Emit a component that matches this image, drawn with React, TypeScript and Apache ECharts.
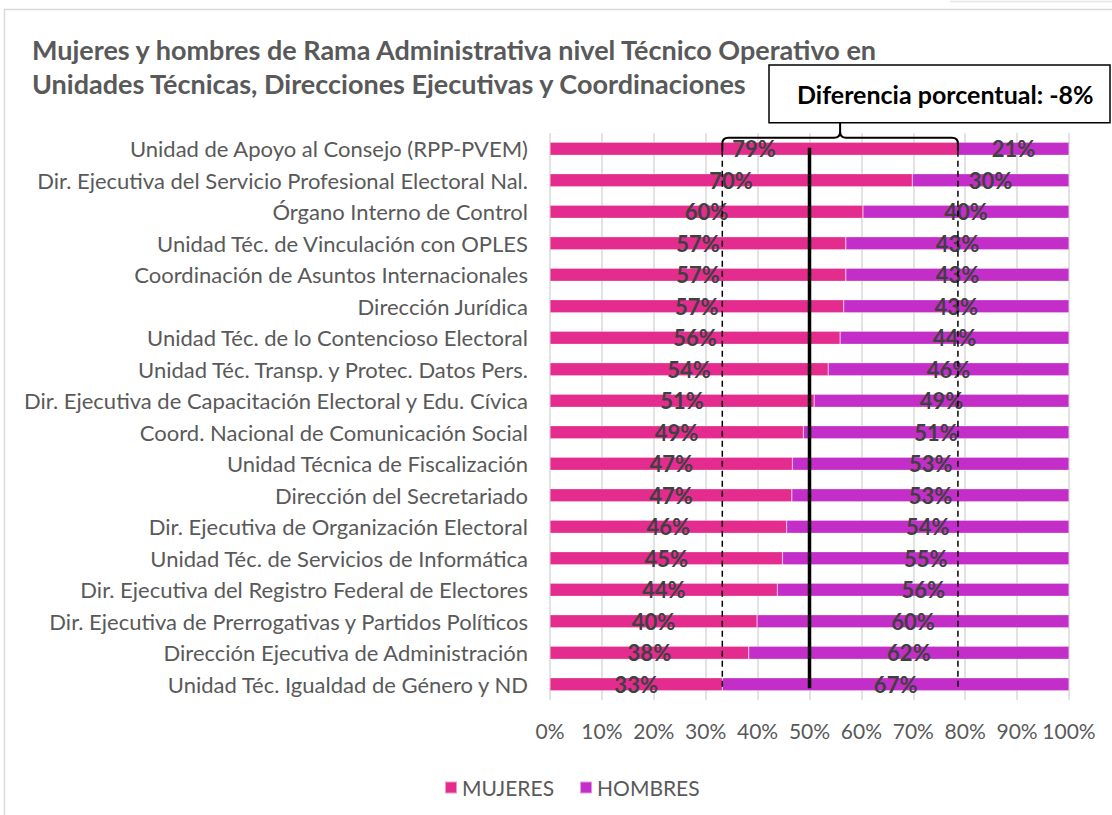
import React, { useEffect, useRef } from "react";
import * as echarts from "echarts";

const titleLines = [
  "Mujeres y hombres de Rama Administrativa nivel Técnico Operativo en",
  "Unidades Técnicas, Direcciones Ejecutivas y Coordinaciones",
];

const categories = [
  "Unidad de Apoyo al Consejo (RPP-PVEM)",
  "Dir. Ejecutiva del Servicio Profesional Electoral Nal.",
  "Órgano Interno de Control",
  "Unidad Téc. de Vinculación con OPLES",
  "Coordinación de Asuntos Internacionales",
  "Dirección Jurídica",
  "Unidad Téc. de lo Contencioso Electoral",
  "Unidad Téc. Transp. y Protec. Datos Pers.",
  "Dir. Ejecutiva de Capacitación Electoral y Edu. Cívica",
  "Coord. Nacional de Comunicación Social",
  "Unidad Técnica de Fiscalización",
  "Dirección del Secretariado",
  "Dir. Ejecutiva de Organización Electoral",
  "Unidad Téc. de Servicios de Informática",
  "Dir. Ejecutiva del Registro Federal de Electores",
  "Dir. Ejecutiva de Prerrogativas y Partidos Políticos",
  "Dirección Ejecutiva de Administración",
  "Unidad Téc. Igualdad de Género y ND",
];

const mujeres = [78.6, 69.8, 60.3, 57.0, 57.0, 56.6, 55.9, 53.6, 50.9, 48.8, 46.7, 46.6, 45.6, 44.8, 43.8, 39.9, 38.3, 33.2];
const hombres = [21.4, 30.2, 39.7, 43.0, 43.0, 43.4, 44.1, 46.4, 49.1, 51.2, 53.3, 53.4, 54.4, 55.2, 56.2, 60.1, 61.7, 66.8];

const seriesNames = ["MUJERES", "HOMBRES"];
const referenceValue = 50;
const diferenciaTexto = "Diferencia porcentual: -8%";

const COLOR_M = "#E32C8E";
const COLOR_H = "#C42EC8";
const FONT = "Lato, 'Noto Sans', sans-serif";

export default function App() {
  const ref = useRef<HTMLDivElement>(null);

  useEffect(() => {
    document.body.style.margin = "0";
    const chart = echarts.init(ref.current!, null, { renderer: "svg" });

    const label = {
      show: true,
      position: "inside",
      formatter: (p: any) => Math.round(p.value) + "%",
      color: "#404040",
      fontWeight: "bold",
      fontSize: 22,
      fontFamily: FONT,
      textBorderWidth: 0,
    };

    chart.setOption({
      animation: false,
      textStyle: { fontFamily: FONT },
      title: {
        text: titleLines.join("\n"),
        left: 27,
        top: 27,
        textStyle: {
          fontFamily: FONT,
          fontSize: 27,
          fontWeight: "bold",
          color: "#595959",
          lineHeight: 34,
        },
      },
      legend: {
        data: seriesNames,
        left: 439,
        top: 772,
        icon: "rect",
        itemWidth: 12,
        itemHeight: 12,
        itemGap: 25,
        textStyle: { fontSize: 21, color: "#595959", fontFamily: FONT },
      },
      grid: { left: 550, right: 43, top: 133, bottom: 115, containLabel: false },
      xAxis: {
        type: "value",
        min: 0,
        max: 100,
        interval: 10,
        axisLabel: { formatter: "{value}%", color: "#595959", fontSize: 21, margin: 20, fontFamily: FONT },
        splitLine: { show: true, lineStyle: { color: "#D9D9D9", width: 1.5 } },
        axisLine: { show: false },
        axisTick: { show: false },
      },
      yAxis: {
        type: "category",
        data: categories,
        inverse: true,
        axisLabel: { color: "#595959", fontSize: 22, margin: 22, fontFamily: FONT },
        axisLine: { show: false },
        axisTick: { show: false },
      },
      series: [
        {
          name: seriesNames[0],
          type: "bar",
          stack: "total",
          data: mujeres,
          barWidth: 13,
          itemStyle: { color: COLOR_M, borderColor: "rgba(255,255,255,0.5)", borderWidth: 0.5 },
          label,
        },
        {
          name: seriesNames[1],
          type: "bar",
          stack: "total",
          data: hombres,
          barWidth: 13,
          itemStyle: { color: COLOR_H, borderColor: "rgba(255,255,255,0.5)", borderWidth: 0.5 },
          label,
        },
      ],
    });

    const xOf = (v: number) => chart.convertToPixel({ xAxisIndex: 0 }, v) as number;
    const yOf = (i: number) => chart.convertToPixel({ yAxisIndex: 0 }, i) as number;

    const minV = Math.min(...mujeres);
    const maxV = Math.max(...mujeres);
    const xMin = xOf(minV);
    const xMax = xOf(maxV);
    const xRef = xOf(referenceValue);
    const yFirst = yOf(0);
    const yLast = yOf(categories.length - 1);

    const braceY = yFirst - 11;
    const boxBottom = yFirst - 26;
    const xc = (xMin + xMax) / 2;
    const r = 6;
    const d =
      `M ${xMin} ${yFirst + 2} L ${xMin} ${braceY + r} Q ${xMin} ${braceY} ${xMin + r} ${braceY} ` +
      `L ${xc - r} ${braceY} Q ${xc} ${braceY} ${xc} ${braceY - r} L ${xc} ${boxBottom} ` +
      `M ${xc} ${braceY - r} Q ${xc} ${braceY} ${xc + r} ${braceY} ` +
      `L ${xMax - r} ${braceY} Q ${xMax} ${braceY} ${xMax} ${braceY + r} L ${xMax} ${yFirst + 2}`;
    echarts.graphic.registerShape("brace", echarts.graphic.extendPath(d, {}) as any);

    const boxLeft = 769;
    const boxRight = 1110;
    const boxTop = 65;

    chart.setOption({
      graphic: [
        {
          type: "rect",
          silent: true,
          shape: { x: 4.5, y: 9.5, width: 1300, height: 1000 },
          style: { fill: "none", stroke: "#D9D9D9", lineWidth: 1.5 },
          z: 0,
        },
        {
          type: "line",
          silent: true,
          shape: { x1: 950, y1: 1.5, x2: 1112, y2: 1.5 },
          style: { stroke: "#E6E6E6", lineWidth: 1.5 },
        },
        {
          type: "line",
          silent: true,
          shape: { x1: xRef, y1: yFirst - 1, x2: xRef, y2: yLast + 4 },
          style: { stroke: "#000", lineWidth: 3.5 },
          z: 100,
        },
        {
          type: "line",
          silent: true,
          shape: { x1: xMin, y1: yFirst + 2, x2: xMin, y2: yLast + 4 },
          style: { stroke: "#000", lineWidth: 1.5, lineDash: [6, 4] },
          z: 100,
        },
        {
          type: "line",
          silent: true,
          shape: { x1: xMax, y1: yFirst + 2, x2: xMax, y2: yLast + 4 },
          style: { stroke: "#000", lineWidth: 1.5, lineDash: [6, 4] },
          z: 100,
        },
        {
          type: "brace",
          silent: true,
          x: 0,
          y: 0,
          style: { fill: "none", stroke: "#000", lineWidth: 2 },
          z: 100,
        },
        {
          type: "rect",
          silent: true,
          shape: { x: boxLeft, y: boxTop, width: boxRight - boxLeft, height: boxBottom - boxTop },
          style: { fill: "#fff", stroke: "#000", lineWidth: 1.5 },
          z: 100,
        },
        {
          type: "text",
          silent: true,
          x: 797,
          y: (boxTop + boxBottom) / 2,
          style: {
            text: diferenciaTexto,
            fill: "#000",
            font: `bold 25px ${FONT}`,
            align: "left",
            verticalAlign: "middle",
          },
          z: 101,
        },
      ],
    });

    return () => {
      chart.dispose();
    };
  }, []);

  return <div ref={ref} style={{ width: 1112, height: 815 }} />;
}
